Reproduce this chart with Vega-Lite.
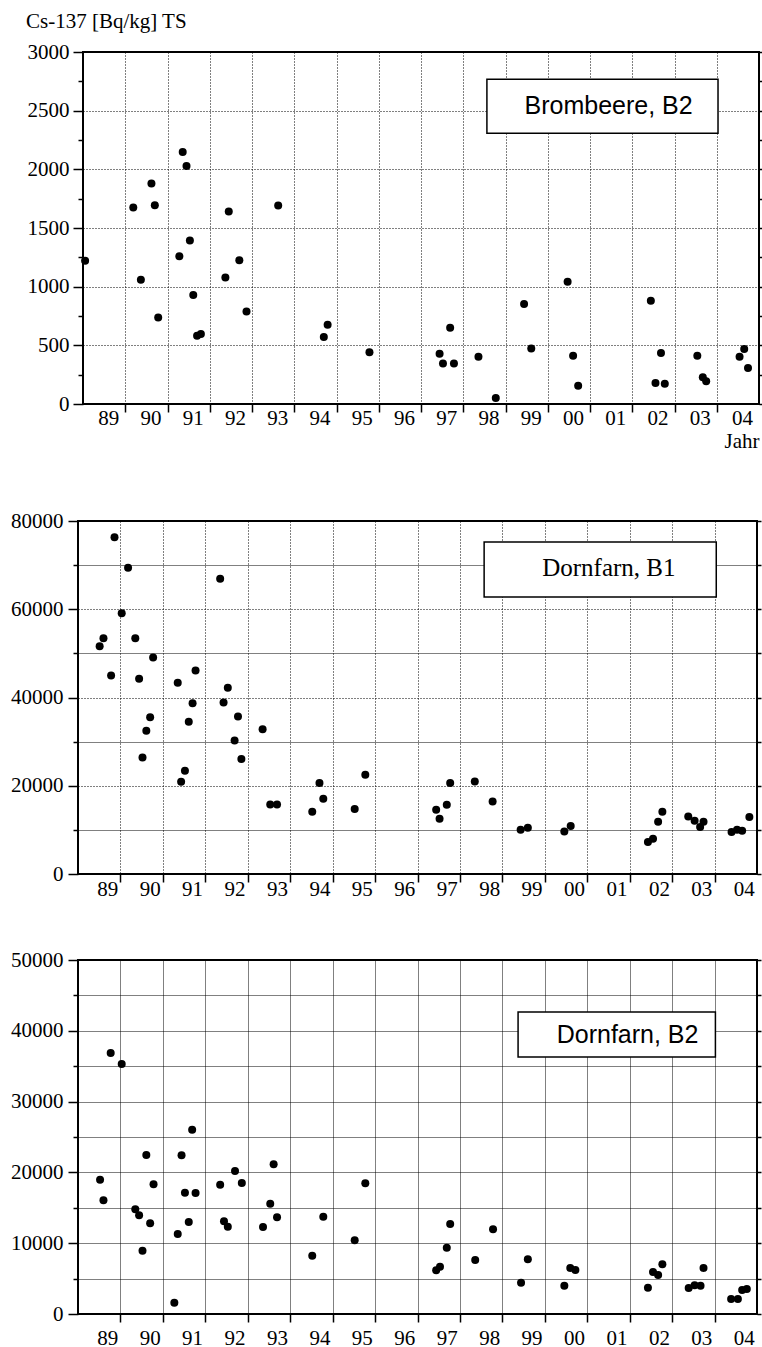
{
  "$schema": "https://vega.github.io/schema/vega-lite/v6.json",
  "background": "white",
  "padding": {"left": 5, "top": 10, "right": 0, "bottom": 0},
  "config": {
    "view": {"stroke": "black", "strokeWidth": 2},
    "style": {"guide-label": {"font": "Liberation Serif", "fontSize": 21, "fill": "black"}},
    "axis": {
      "labelFont": "Liberation Serif", "labelFontSize": 21, "labelColor": "black",
      "titleFont": "Liberation Serif", "titleFontSize": 21, "titleFontWeight": "normal", "titleColor": "black",
      "tickColor": "black", "tickWidth": 1.5, "domain": false, "gridColor": "black", "gridWidth": 1,
      "labelFlush": false, "labelOverlap": false, "labelBound": false
    }
  },
  "datasets": {
    "p1": [
      {"year": 1989.05, "cs": 1220}, {"year": 1990.19, "cs": 1675}, {"year": 1990.37, "cs": 1058},
      {"year": 1990.62, "cs": 1879}, {"year": 1990.70, "cs": 1694}, {"year": 1990.78, "cs": 738},
      {"year": 1991.28, "cs": 1260}, {"year": 1991.36, "cs": 2148}, {"year": 1991.45, "cs": 2029},
      {"year": 1991.53, "cs": 1394}, {"year": 1991.61, "cs": 928}, {"year": 1991.70, "cs": 582},
      {"year": 1991.79, "cs": 596}, {"year": 1992.37, "cs": 1079}, {"year": 1992.45, "cs": 1641},
      {"year": 1992.70, "cs": 1226}, {"year": 1992.87, "cs": 789}, {"year": 1993.62, "cs": 1692},
      {"year": 1994.70, "cs": 571}, {"year": 1994.79, "cs": 675}, {"year": 1995.78, "cs": 440},
      {"year": 1997.44, "cs": 428}, {"year": 1997.52, "cs": 346}, {"year": 1997.69, "cs": 650},
      {"year": 1997.78, "cs": 346}, {"year": 1998.36, "cs": 403}, {"year": 1998.77, "cs": 51},
      {"year": 1999.44, "cs": 852}, {"year": 1999.61, "cs": 474}, {"year": 2000.47, "cs": 1041},
      {"year": 2000.60, "cs": 412}, {"year": 2000.72, "cs": 156}, {"year": 2002.44, "cs": 880},
      {"year": 2002.55, "cs": 179}, {"year": 2002.68, "cs": 434}, {"year": 2002.77, "cs": 173},
      {"year": 2003.54, "cs": 412}, {"year": 2003.67, "cs": 227}, {"year": 2003.75, "cs": 193},
      {"year": 2004.54, "cs": 403}, {"year": 2004.65, "cs": 468}, {"year": 2004.74, "cs": 307}
    ],
    "p2": [
      {"year": 1989.51, "cs": 51630}, {"year": 1989.60, "cs": 53440}, {"year": 1989.78, "cs": 44970},
      {"year": 1989.86, "cs": 76310}, {"year": 1990.03, "cs": 59100}, {"year": 1990.18, "cs": 69430},
      {"year": 1990.35, "cs": 53440}, {"year": 1990.44, "cs": 44230}, {"year": 1990.52, "cs": 26400},
      {"year": 1990.61, "cs": 32450}, {"year": 1990.70, "cs": 35550}, {"year": 1990.77, "cs": 49050},
      {"year": 1991.35, "cs": 43320}, {"year": 1991.43, "cs": 20900}, {"year": 1991.52, "cs": 23390},
      {"year": 1991.61, "cs": 34490}, {"year": 1991.70, "cs": 38720}, {"year": 1991.77, "cs": 46110},
      {"year": 1992.35, "cs": 66940}, {"year": 1992.43, "cs": 38860}, {"year": 1992.53, "cs": 42190},
      {"year": 1992.69, "cs": 30250}, {"year": 1992.77, "cs": 35690}, {"year": 1992.85, "cs": 26040},
      {"year": 1993.35, "cs": 32830}, {"year": 1993.53, "cs": 15760}, {"year": 1993.69, "cs": 15760},
      {"year": 1994.52, "cs": 14110}, {"year": 1994.69, "cs": 20600}, {"year": 1994.78, "cs": 17050},
      {"year": 1995.52, "cs": 14720}, {"year": 1995.77, "cs": 22490}, {"year": 1997.44, "cs": 14560},
      {"year": 1997.52, "cs": 12520}, {"year": 1997.69, "cs": 15690}, {"year": 1997.77, "cs": 20600},
      {"year": 1998.35, "cs": 20970}, {"year": 1998.77, "cs": 16440}, {"year": 1999.43, "cs": 10030},
      {"year": 1999.60, "cs": 10480}, {"year": 2000.46, "cs": 9650}, {"year": 2000.61, "cs": 10870},
      {"year": 2002.43, "cs": 7250}, {"year": 2002.55, "cs": 7990}, {"year": 2002.67, "cs": 11840},
      {"year": 2002.77, "cs": 14110}, {"year": 2003.38, "cs": 13040}, {"year": 2003.53, "cs": 12070},
      {"year": 2003.66, "cs": 10640}, {"year": 2003.74, "cs": 11840}, {"year": 2004.40, "cs": 9510},
      {"year": 2004.53, "cs": 10030}, {"year": 2004.65, "cs": 9800}, {"year": 2004.82, "cs": 12900}
    ],
    "p3": [
      {"year": 1989.52, "cs": 18970}, {"year": 1989.60, "cs": 16060}, {"year": 1989.77, "cs": 36860},
      {"year": 1990.03, "cs": 35310}, {"year": 1990.35, "cs": 14780}, {"year": 1990.44, "cs": 13940},
      {"year": 1990.52, "cs": 8940}, {"year": 1990.61, "cs": 22460}, {"year": 1990.70, "cs": 12810},
      {"year": 1990.78, "cs": 18310}, {"year": 1991.27, "cs": 1600}, {"year": 1991.35, "cs": 11300},
      {"year": 1991.44, "cs": 22410}, {"year": 1991.52, "cs": 17130}, {"year": 1991.61, "cs": 12990},
      {"year": 1991.69, "cs": 26030}, {"year": 1991.77, "cs": 17090}, {"year": 1992.35, "cs": 18270},
      {"year": 1992.44, "cs": 13090}, {"year": 1992.53, "cs": 12330}, {"year": 1992.70, "cs": 20200},
      {"year": 1992.86, "cs": 18500}, {"year": 1993.36, "cs": 12290}, {"year": 1993.53, "cs": 15580},
      {"year": 1993.61, "cs": 21140}, {"year": 1993.69, "cs": 13650}, {"year": 1994.52, "cs": 8240},
      {"year": 1994.78, "cs": 13750}, {"year": 1995.52, "cs": 10400}, {"year": 1995.77, "cs": 18460},
      {"year": 1997.44, "cs": 6170}, {"year": 1997.53, "cs": 6690}, {"year": 1997.69, "cs": 9370},
      {"year": 1997.77, "cs": 12710}, {"year": 1998.36, "cs": 7630}, {"year": 1998.78, "cs": 11960},
      {"year": 1999.44, "cs": 4420}, {"year": 1999.60, "cs": 7720}, {"year": 2000.46, "cs": 4000},
      {"year": 2000.60, "cs": 6500}, {"year": 2000.72, "cs": 6210}, {"year": 2002.43, "cs": 3720},
      {"year": 2002.55, "cs": 5930}, {"year": 2002.67, "cs": 5510}, {"year": 2002.77, "cs": 7020},
      {"year": 2003.39, "cs": 3670}, {"year": 2003.53, "cs": 4050}, {"year": 2003.67, "cs": 4000},
      {"year": 2003.74, "cs": 6500}, {"year": 2004.39, "cs": 2120}, {"year": 2004.55, "cs": 2120},
      {"year": 2004.65, "cs": 3390}, {"year": 2004.76, "cs": 3530}
    ],
    "n1": [{"x1": 1998.56, "x2": 2004.03, "y1": 2767, "y2": 2308, "tx": 2001.44, "ty": 2469, "label": "Brombeere, B2"}],
    "n2": [{"x1": 1998.57, "x2": 2004.04, "y1": 75250, "y2": 62790, "tx": 2001.51, "ty": 67620, "label": "Dornfarn, B1"}],
    "n3": [{"x1": 1999.37, "x2": 2004.02, "y1": 42660, "y2": 36300, "tx": 2001.95, "ty": 38230, "label": "Dornfarn, B2"}],
    "spacer": [{"a": 0}]
  },
  "columns": 1,
  "spacing": 57,
  "concat": [
    {
      "spacing": -74,
      "hconcat": [
        {
          "width": 1, "height": 1,
          "data": {"name": "spacer"},
          "mark": {"type": "point", "opacity": 0, "size": 1},
          "view": {"stroke": null, "fill": null}
        },
        {
          "width": 676, "height": 352,
          "title": {"text": "Cs-137 [Bq/kg] TS", "anchor": "start", "frame": "group", "dx": -57, "offset": -8, "baseline": "alphabetic", "font": "Liberation Serif", "fontSize": 21, "fontWeight": "normal", "color": "black"},
          "resolve": {"axis": {"x": "independent", "y": "independent"}},
          "layer": [
            {
              "data": {"name": "p1"},
              "mark": {"type": "point", "filled": true, "shape": "circle", "size": 64, "color": "black", "opacity": 1},
              "encoding": {
                "x": {"field": "year", "type": "quantitative", "scale": {"domain": [1989, 2005], "nice": false, "zero": false},
                  "axis": {"title": "Jahr", "titleAnchor": "end", "titleAlign": "right", "titlePadding": 2,
                    "titleFont": "Liberation Serif", "titleFontSize": 21, "titleFontWeight": "normal", "titleColor": "black",
                    "labelFont": "Liberation Serif", "labelFontSize": 21, "labelColor": "black",
                    "labelFlush": false, "labelOverlap": false, "labelBound": false, "domain": false,
                    "tickColor": "black", "tickWidth": 1.5, "gridColor": "black", "gridWidth": 1,
                    "values": [1989.5,1990,1990.5,1991,1991.5,1992,1992.5,1993,1993.5,1994,1994.5,1995,1995.5,1996,1996.5,1997,1997.5,1998,1998.5,1999,1999.5,2000,2000.5,2001,2001.5,2002,2002.5,2003,2003.5,2004,2004.5],
                    "labelExpr": "datum.value % 1 ? slice(toString(floor(datum.value)), 2) : ''",
                    "tickOpacity": {"condition": {"test": "datum.value % 1", "value": 0}, "value": 1},
                    "gridOpacity": {"condition": {"test": "datum.value % 1", "value": 0}, "value": 1},
                    "grid": true, "gridDash": [1, 2], "tickSize": 8, "labelPadding": -5, "labelOffset": 4}},
                "y": {"field": "cs", "type": "quantitative", "scale": {"domain": [0, 3000], "nice": false},
                  "axis": {"title": null, "values": [0,250,500,750,1000,1250,1500,1750,2000,2250,2500,2750,3000],
                    "labelFont": "Liberation Serif", "labelFontSize": 21, "labelColor": "black", "domain": false,
                    "tickColor": "black", "tickWidth": 1.5, "gridColor": "black", "gridWidth": 1,
                    "labelExpr": "datum.value % 500 === 0 ? toString(datum.value) : ''",
                    "tickSize": {"condition": {"test": "datum.value % 500 === 0", "value": 10}, "value": 5},
                    "gridOpacity": {"condition": {"test": "datum.value % 500 === 0", "value": 1}, "value": 0},
                    "grid": true, "gridDash": [1, 2], "labelPadding": 4, "minExtent": 77, "maxExtent": 77}}
              }
            },
            {
              "data": {"name": "n1"},
              "mark": {"type": "rect", "fill": "white", "stroke": "black", "strokeWidth": 1.5},
              "encoding": {
                "x": {"field": "x1", "type": "quantitative", "axis": null},
                "x2": {"field": "x2"},
                "y": {"field": "y1", "type": "quantitative",
                  "axis": {"orient": "right", "title": null, "labels": false, "grid": false, "domain": false,
                    "tickColor": "black", "tickWidth": 1.5,
                    "values": [0,250,500,750,1000,1250,1500,1750,2000,2250,2500,2750,3000], "tickSize": 4}},
                "y2": {"field": "y2"}
              }
            },
            {
              "data": {"name": "n1"},
              "mark": {"type": "text", "font": "Liberation Sans", "fontSize": 25, "color": "black", "align": "center", "baseline": "alphabetic"},
              "encoding": {
                "x": {"field": "tx", "type": "quantitative", "axis": null},
                "y": {"field": "ty", "type": "quantitative", "axis": null},
                "text": {"field": "label"}
              }
            }
          ]
        }
      ]
    },
    {
      "columns": 1,
      "spacing": 48,
      "concat": [
        {
          "width": 679, "height": 353,
          "resolve": {"axis": {"x": "independent", "y": "independent"}},
          "layer": [
            {
              "data": {"name": "p2"},
              "mark": {"type": "point", "filled": true, "shape": "circle", "size": 64, "color": "black", "opacity": 1},
              "encoding": {
                "x": {"field": "year", "type": "quantitative", "scale": {"domain": [1989, 2005], "nice": false, "zero": false},
                  "axis": {"title": null,
                    "labelFont": "Liberation Serif", "labelFontSize": 21, "labelColor": "black",
                    "labelFlush": false, "labelOverlap": false, "labelBound": false, "domain": false,
                    "tickColor": "black", "tickWidth": 1.5, "gridColor": "black", "gridWidth": 1,
                    "values": [1989.5,1990,1990.5,1991,1991.5,1992,1992.5,1993,1993.5,1994,1994.5,1995,1995.5,1996,1996.5,1997,1997.5,1998,1998.5,1999,1999.5,2000,2000.5,2001,2001.5,2002,2002.5,2003,2003.5,2004,2004.5],
                    "labelExpr": "datum.value % 1 ? slice(toString(floor(datum.value)), 2) : ''",
                    "tickOpacity": {"condition": {"test": "datum.value % 1", "value": 0}, "value": 1},
                    "gridOpacity": {"condition": {"test": "datum.value % 1", "value": 0}, "value": 1},
                    "grid": true, "gridDash": [1, 2], "tickSize": 8, "labelPadding": -4, "labelOffset": 8}},
                "y": {"field": "cs", "type": "quantitative", "scale": {"domain": [0, 80000], "nice": false},
                  "axis": {"title": null, "values": [0,10000,20000,30000,40000,50000,60000,70000,80000],
                    "labelFont": "Liberation Serif", "labelFontSize": 21, "labelColor": "black", "domain": false,
                    "tickColor": "black", "tickWidth": 1.5, "gridColor": "black", "gridWidth": 1,
                    "labelExpr": "datum.value % 20000 === 0 ? toString(datum.value) : ''",
                    "tickSize": {"condition": {"test": "datum.value % 20000 === 0", "value": 10}, "value": 5},
                    "gridDash": {"condition": {"test": "datum.value % 20000 === 0", "value": [1, 2]}, "value": [1, 1]},
                    "grid": true, "labelPadding": 5, "minExtent": 72, "maxExtent": 72}}
              }
            },
            {
              "data": {"name": "n2"},
              "mark": {"type": "rect", "fill": "white", "stroke": "black", "strokeWidth": 1.5},
              "encoding": {
                "x": {"field": "x1", "type": "quantitative", "axis": null},
                "x2": {"field": "x2"},
                "y": {"field": "y1", "type": "quantitative",
                  "axis": {"orient": "right", "title": null, "labels": false, "grid": false, "domain": false,
                    "tickColor": "black", "tickWidth": 1.5,
                    "values": [0,10000,20000,30000,40000,50000,60000,70000,80000], "tickSize": 4}},
                "y2": {"field": "y2"}
              }
            },
            {
              "data": {"name": "n2"},
              "mark": {"type": "text", "font": "Liberation Serif", "fontSize": 25, "color": "black", "align": "center", "baseline": "alphabetic"},
              "encoding": {
                "x": {"field": "tx", "type": "quantitative", "axis": null},
                "y": {"field": "ty", "type": "quantitative", "axis": null},
                "text": {"field": "label"}
              }
            }
          ]
        },
        {
          "width": 679, "height": 354,
          "resolve": {"axis": {"x": "independent", "y": "independent"}},
          "layer": [
            {
              "data": {"name": "p3"},
              "mark": {"type": "point", "filled": true, "shape": "circle", "size": 64, "color": "black", "opacity": 1},
              "encoding": {
                "x": {"field": "year", "type": "quantitative", "scale": {"domain": [1989, 2005], "nice": false, "zero": false},
                  "axis": {"title": null,
                    "labelFont": "Liberation Serif", "labelFontSize": 21, "labelColor": "black",
                    "labelFlush": false, "labelOverlap": false, "labelBound": false, "domain": false,
                    "tickColor": "black", "tickWidth": 1.5, "gridColor": "black", "gridWidth": 1,
                    "values": [1989.5,1990,1990.5,1991,1991.5,1992,1992.5,1993,1993.5,1994,1994.5,1995,1995.5,1996,1996.5,1997,1997.5,1998,1998.5,1999,1999.5,2000,2000.5,2001,2001.5,2002,2002.5,2003,2003.5,2004,2004.5],
                    "labelExpr": "datum.value % 1 ? slice(toString(floor(datum.value)), 2) : ''",
                    "tickOpacity": {"condition": {"test": "datum.value % 1", "value": 0}, "value": 1},
                    "gridOpacity": {"condition": {"test": "datum.value % 1", "value": 0}, "value": 1},
                    "grid": true, "gridDash": [1, 1], "tickSize": 8, "labelPadding": 5, "labelOffset": 8}},
                "y": {"field": "cs", "type": "quantitative", "scale": {"domain": [0, 50000], "nice": false},
                  "axis": {"title": null, "values": [0,5000,10000,15000,20000,25000,30000,35000,40000,45000,50000],
                    "labelFont": "Liberation Serif", "labelFontSize": 21, "labelColor": "black", "domain": false,
                    "tickColor": "black", "tickWidth": 1.5, "gridColor": "black", "gridWidth": 1,
                    "labelExpr": "datum.value % 10000 === 0 ? toString(datum.value) : ''",
                    "tickSize": {"condition": {"test": "datum.value % 10000 === 0", "value": 10}, "value": 5},
                    "grid": true, "gridDash": [1, 1], "labelPadding": 5, "minExtent": 72, "maxExtent": 72}}
              }
            },
            {
              "data": {"name": "n3"},
              "mark": {"type": "rect", "fill": "white", "stroke": "black", "strokeWidth": 1.5},
              "encoding": {
                "x": {"field": "x1", "type": "quantitative", "axis": null},
                "x2": {"field": "x2"},
                "y": {"field": "y1", "type": "quantitative",
                  "axis": {"orient": "right", "title": null, "labels": false, "grid": false, "domain": false,
                    "tickColor": "black", "tickWidth": 1.5,
                    "values": [0,5000,10000,15000,20000,25000,30000,35000,40000,45000,50000], "tickSize": 4}},
                "y2": {"field": "y2"}
              }
            },
            {
              "data": {"name": "n3"},
              "mark": {"type": "text", "font": "Liberation Sans", "fontSize": 25, "color": "black", "align": "center", "baseline": "alphabetic"},
              "encoding": {
                "x": {"field": "tx", "type": "quantitative", "axis": null},
                "y": {"field": "ty", "type": "quantitative", "axis": null},
                "text": {"field": "label"}
              }
            }
          ]
        }
      ]
    }
  ]
}
